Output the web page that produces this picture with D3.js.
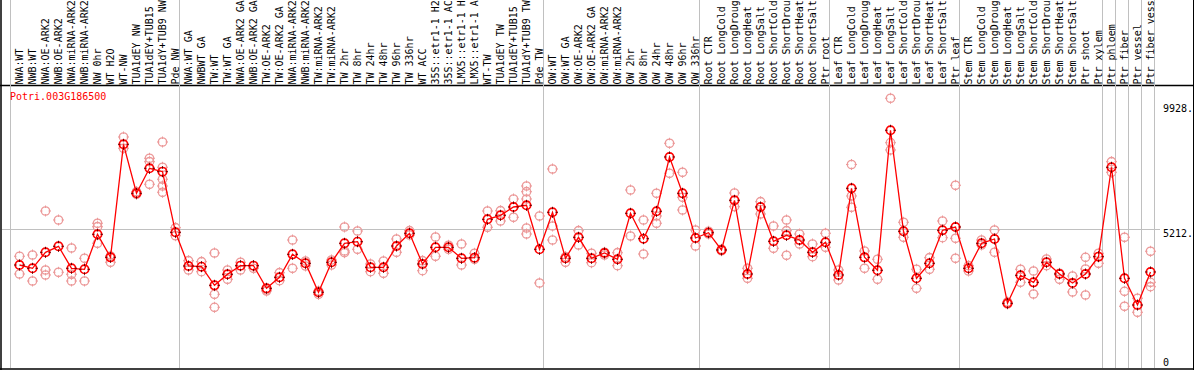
<!DOCTYPE html>
<html>
<head>
<meta charset="utf-8">
<script src="https://cdnjs.cloudflare.com/ajax/libs/d3/7.8.5/d3.min.js"></script>
<style>
body { margin: 0; padding: 0; background: #fff; }
svg { display: block; }
text { font-family: "DejaVu Sans Mono", monospace; font-size: 10px; }
</style>
</head>
<body>
<svg id="chart"></svg>
<script>
//expression profile of one gene across the sample conditions

var geneName = "Potri.003G186500";

//sample names, one per column
var samples = ["NWA:WT","NWB:WT","NWA:OE-ARK2","NWB:OE-ARK2","NWA:miRNA-ARK2","NWB:miRNA-ARK2","NW 0hr","WT H2O","WT-NW","TUA1dEY NW","TUA1dEY+TUB15 NW","TUA1dY+TUB9 NW","Pde NW",
"NWA:WT GA","NWBWT GA","TW:WT","TW:WT GA","NWA:OE-ARK2 GA","NWB:OE-ARK2 GA","TW:OE-ARK2","TW:OE-ARK2 GA","NWA:miRNA-ARK2 GA","NWB:miRNA-ARK2 GA","TW:miRNA-ARK2","TW:miRNA-ARK2 GA","TW 2hr","TW 8hr","TW 24hr","TW 48hr","TW 96hr","TW 336hr","WT ACC","35S::etr1-1 H2O","35S::etr1-1 ACC","LMX5::etr1-1 H2O","LMX5::etr1-1 ACC","WT-TW","TUA1dEY TW","TUA1dEY+TUB15 TW","TUA1dY+TUB9 TW","Pde TW",
"OW:WT","OW:WT GA","OW:OE-ARK2","OW:OE-ARK2 GA","OW:miRNA-ARK2","OW:miRNA-ARK2 GA","OW 2hr","OW 8hr","OW 24hr","OW 48hr","OW 96hr","OW 336hr",
"Root CTR","Root LongCold","Root LongDrought","Root LongHeat","Root LongSalt","Root ShortCold","Root ShortDrought","Root ShortHeat","Root ShortSalt","Ptr root",
"Leaf CTR","Leaf LongCold","Leaf LongDrought","Leaf LongHeat","Leaf LongSalt","Leaf ShortCold","Leaf ShortDrought","Leaf ShortHeat","Leaf ShortSalt","Ptr leaf",
"Stem CTR","Stem LongCold","Stem LongDrought","Stem LongHeat","Stem LongSalt","Stem ShortCold","Stem ShortDrought","Stem ShortHeat","Stem ShortSalt","Ptr shoot","Ptr xylem",
"Ptr phloem","Ptr fiber","Ptr vessel","Ptr fiber vessel"];

//mean expression per sample
var means = [3843,3719,4322,4548,3719,3681,5000,4133,8391,6545,7487,7359,5075,
3806,3779,3078,3493,3817,3817,2965,3380,4246,3907,2815,3945,4661,4721,3757,3757,4559,5038,3881,4510,4510,4096,4118,5565,5716,6029,6093,4435,
5829,4096,4887,4096,4296,4058,5791,4834,5867,7913,6545,4861,
5060,4409,6281,3504,6029,4736,4962,4785,4322,4699,
3467,6733,4133,3644,8919,5113,3342,3907,5151,5275,
3719,4661,4823,2400,3455,3191,3945,3504,3165,3504,4156,
7525,3342,2336,3580];

//replicate values per sample
var replicates = [[4171,3504],[4220,3240],[5878,3655,3467],[5539,3568],[4484,3493,3240],[4096,3240],[5415,5286,4661],[4182,3945],[8666,8241],[6605,6507],[7864,7736,6884],[8478,7525,7073,6820,6583],[5249,4947],
[4005,3655],[3968,3591],[4296,2739,2249],[3655,3305],[3945,3655],[3817,3719],[2901,2864],[3553,3252],[4785,3719],[3994,3806],[2739,2864],[4032,3843],[5275,4371,4307],[5124,4435],[3881,3591],[3994,3531],[4823,4322],[5136,4974],[4005,3629],[4898,4171],[4586,4435],[4635,3843],[4284,4058],[5878,5264],[5889,5501],[6330,5641],[6820,6605,6330,5238,5011],[5690,3165],
[7461,5313,4785],[4156,3945],[5136,4597],[4284,3930],[4322,4220],[4307,3817],[6669,4936],[5539,4258],[6545,5690,5415],[8429,7299],[7336,6394,5916],[5162,4559],
[5113,5011],[4435,4382],[6556,6040],[3719,3342],[6228,5765],[5313,4473],[5539,5136,4209],[5011,4635],[4635,4156],[5038,4510],
[3655,3278],[7630,6443,6017],[4371,3719],[4058,3305],[10125,8452,8177],[5452,4887],[3681,2965],[4118,3681],[5501,4872],[6846,4849,4096],
[3817,3617],[4785,4597],[5162,4322],[2449,2374],[3681,3191],[3617,2751],[4069,3817],[3531,3305],[3429,2826],[4133,3693,2713],[4284,3907],
[7736,7336],[4887,2852,2287],[2589,2061],[4360,3191,3026]];

//column index where each group starts (last entry closes the final group)
var groupBreaks = [0,13,41,53,63,73,84,85,86,87,88];

//y axis ticks
var tickValues = [0,5212,9928];
var tickLabels = ["0","5212.","9928."];

var canvasWidth = 1194;
var canvasHeight = 370;
var headerHeight = 85.5;
var maxLabelChars = 14;	//header only has room for this many characters

var colorMean = "#ff0000";
var colorRep = "#ec9a9a";
var colorGrid = "#c0c0c0";

var svg = d3.select("#chart").attr("width", canvasWidth).attr("height", canvasHeight);

var x = d3.scaleLinear().domain([0, samples.length]).range([10.5, 1154.5]);
var y = d3.scaleLinear().domain([0, 9928]).range([367, 103.5]);
function px(i) { return x(i) + 9; }

//frame
svg.append("line").attr("x1", 0).attr("x2", canvasWidth).attr("y1", headerHeight).attr("y2", headerHeight)
  .attr("stroke", "#000").attr("stroke-width", 1.5);
svg.append("line").attr("x1", 1).attr("x2", 1).attr("y1", 0).attr("y2", canvasHeight)
  .attr("stroke", "#000").attr("stroke-width", 1.5);
svg.append("line").attr("x1", canvasWidth - 0.5).attr("x2", canvasWidth - 0.5).attr("y1", 0).attr("y2", canvasHeight)
  .attr("stroke", "#000").attr("stroke-width", 1);
svg.append("line").attr("x1", 0).attr("x2", canvasWidth).attr("y1", 369).attr("y2", 369)
  .attr("stroke", "#000").attr("stroke-width", 1.5);

//group separators
svg.selectAll(".sep").data(groupBreaks).enter().append("line")
  .attr("x1", function(d) { return x(d); }).attr("x2", function(d) { return x(d); })
  .attr("y1", 0).attr("y2", 368)
  .attr("stroke", colorGrid).attr("stroke-width", 1);

//horizontal reference line
svg.append("line").attr("x1", 2).attr("x2", 1160)
  .attr("y1", Math.round(y(5212)) + 0.5).attr("y2", Math.round(y(5212)) + 0.5)
  .attr("stroke", colorGrid).attr("stroke-width", 1);

//tick labels on the right
svg.selectAll(".tick").data(tickValues).enter().append("text")
  .attr("x", 1163)
  .attr("y", function(d) { return Math.min(y(d), 358) + 8; })
  .attr("fill", "#000")
  .text(function(d, i) { return tickLabels[i]; });

//sample labels, vertical, cut to the header height
svg.selectAll(".lab").data(samples).enter().append("text")
  .attr("transform", function(d, i) { return "translate(" + (px(i) + 3) + ",84.5) rotate(-90)"; })
  .attr("fill", "#000")
  .text(function(d) { return d.substring(0, maxLabelChars).trim(); });

//gene name
svg.append("text").attr("x", 10).attr("y", 100).attr("fill", "#ff0000").text(geneName);

//marker: circle with small ticks
function drawMarker(g, cx, cy, color, tickColor, sw) {
  g.append("circle").attr("cx", cx).attr("cy", cy).attr("r", 4.2)
    .attr("fill", "none").attr("stroke", color).attr("stroke-width", sw);
  [[0,-1],[0,1],[-1,0],[1,0]].forEach(function(v) {
    g.append("line")
      .attr("x1", cx + v[0] * 3).attr("y1", cy + v[1] * 3)
      .attr("x2", cx + v[0] * 5.5).attr("y2", cy + v[1] * 5.5)
      .attr("stroke", tickColor).attr("stroke-width", 1);
  });
}

//replicates
var repG = svg.append("g");
replicates.forEach(function(reps, i) {
  reps.forEach(function(v) { drawMarker(repG, px(i), y(v), colorRep, colorRep, 1.3); });
});

//mean line
var line = d3.line().x(function(d, i) { return px(i); }).y(function(d) { return y(d); });
svg.append("path").datum(means).attr("d", line)
  .attr("fill", "none").attr("stroke", colorMean).attr("stroke-width", 1.3);

//mean markers
var meanG = svg.append("g");
means.forEach(function(v, i) { drawMarker(meanG, px(i), y(v), colorMean, "#600", 1.7); });
</script>
</body>
</html>
